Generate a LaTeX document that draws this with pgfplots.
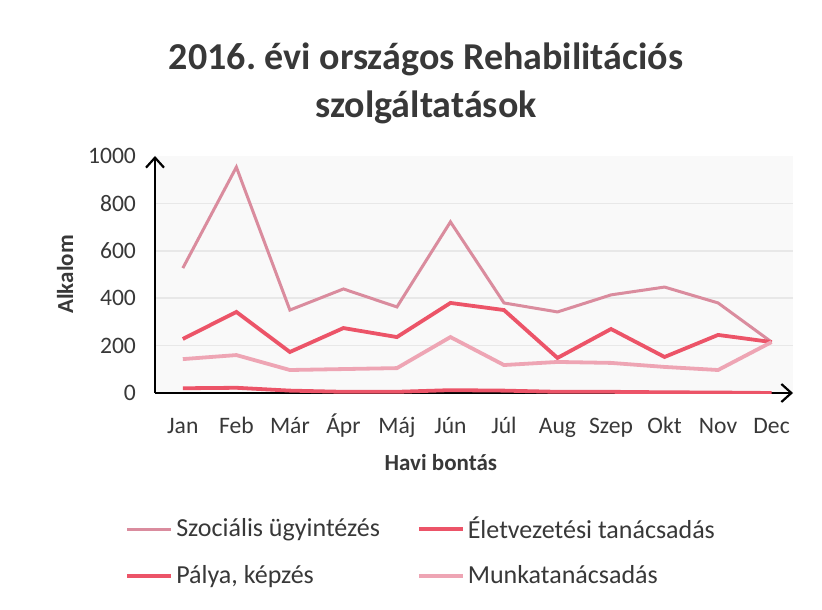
\documentclass[border=0pt]{standalone}
\usepackage{pgfplots}
\pgfplotsset{compat=1.18}
\usepackage{fontspec}
\setmainfont{Carlito}
\usetikzlibrary{arrows.meta}
\definecolor{txt}{RGB}{56,56,56}
\definecolor{redl}{RGB}{236,84,104}
\definecolor{pinkg}{RGB}{218,140,158}
\definecolor{pinkl}{RGB}{238,165,180}
\frenchspacing
\begin{document}
\begin{tikzpicture}
\useasboundingbox (0,0) rectangle (411pt,304.5pt);
\node[font=\bfseries\fontsize{19}{24}\selectfont, text=txt, align=center] at (213pt,263pt) {2016. évi országos Rehabilitációs\\szolgáltatások};
\begin{axis}[
  scale only axis,
  width=319pt, height=118.5pt,
  at={(77.5pt,108pt)}, anchor=south west,
  xmin=-0.52, xmax=11.4, ymin=0, ymax=1000,
  axis lines=left,
  axis line style={line width=1.1pt, black, -{Straight Barb[length=5pt,width=9pt]}},
  xtick={0,...,11},
  xticklabels={Jan,Feb,Már,Ápr,Máj,Jún,Júl,Aug,Szep,Okt,Nov,Dec},
  ytick={0,200,400,600,800},
  extra y ticks={1000},
  extra y tick style={grid=none},
  major tick length=0pt,
  /pgf/number format/assume math mode=true,
  /pgf/number format/1000 sep={},
  tick label style={font=\fontsize{11.8}{13}\selectfont, text=txt},
  xticklabel style={anchor=base, yshift=-20pt},
  yticklabel style={xshift=-6pt},
  ytick style={draw=none},
  ymajorgrids, grid style={gray!18, line width=0.8pt},
  axis background/.style={fill=gray!5},
  xlabel={Havi bontás}, ylabel={Alkalom},
  label style={font=\bfseries\fontsize{11.5}{13}\selectfont, text=txt},
  xlabel style={at={(rel axis cs:0.448,0)}, anchor=center, yshift=-35pt},
  ylabel style={at={(rel axis cs:-0.141,0.5)}, anchor=center},
  legend columns=2,
  legend style={at={(rel axis cs:0.418,-0.67)}, anchor=center, draw=none, fill=none,
    font=\fontsize{13}{15}\selectfont, text=txt,
    nodes={inner xsep=1.5pt},
    /tikz/every even column/.append style={column sep=17pt},
    row sep=8pt},
  legend cell align=left,
  legend image code/.code={\draw[#1] (0pt,0pt) -- (22pt,0pt);},
]
\addplot[pinkg, line width=1.5pt] coordinates {(0,527) (1,953) (2,350) (3,439) (4,363) (5,722) (6,380) (7,342) (8,414) (9,447) (10,380) (11,215)};
\addlegendentry{Szociális ügyintézés}
\addplot[redl, line width=1.9pt] coordinates {(0,228) (1,342) (2,173) (3,274) (4,236) (5,380) (6,350) (7,148) (8,270) (9,152) (10,245) (11,215)};
\addlegendentry{Életvezetési tanácsadás}
\addplot[redl, line width=1.9pt] coordinates {(0,20) (1,22) (2,10) (3,5) (4,5) (5,12) (6,10) (7,5) (8,5) (9,3) (10,2) (11,0)};
\addlegendentry{Pálya, képzés}
\addplot[pinkl, line width=1.9pt] coordinates {(0,143) (1,160) (2,97) (3,101) (4,105) (5,236) (6,118) (7,131) (8,127) (9,110) (10,97) (11,215)};
\addlegendentry{Munkatanácsadás}
\end{axis}
\end{tikzpicture}
\end{document}
